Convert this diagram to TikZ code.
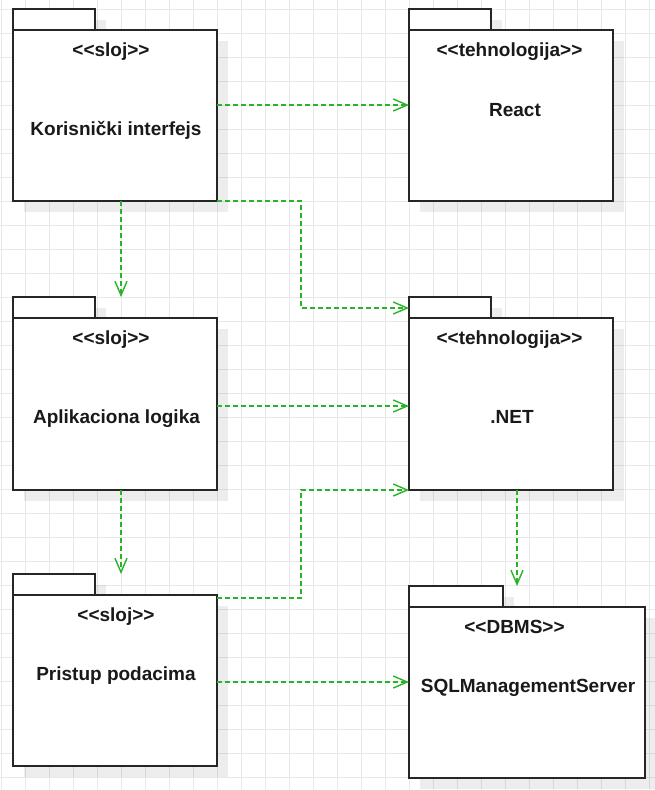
\documentclass[tikz,border=0pt]{standalone}
\usepackage{fontspec}
\setmainfont{Liberation Sans}
\usetikzlibrary{arrows.meta,shadows}
\definecolor{depgreen}{RGB}{40,180,40}
\definecolor{gridgray}{RGB}{232,232,232}
\newcommand{\stereo}[1]{\textless\kern0pt\textless\kern0pt#1\kern0pt\textgreater\kern0pt\textgreater}
\begin{document}
\begin{tikzpicture}[x=1pt,y=-1pt,
  pkg/.style={draw=black!85, line width=1.3pt, fill=white, rectangle, inner sep=0pt, outer sep=0pt,
    drop shadow={shadow xshift=11pt, shadow yshift=-11pt, opacity=0.07, fill=black}},
  tabsz/.style={minimum width=82pt, minimum height=21pt},
  bodysz/.style={minimum width=204pt, minimum height=171pt},
  dep/.style={draw=depgreen, line width=1.4pt, dash pattern=on 5pt off 3pt,
    -{Straight Barb[length=14pt,width=12pt]}},
  lbl/.style={font=\bfseries\fontsize{19}{22}\selectfont, anchor=base, inner sep=0pt, text=black!90}]
\useasboundingbox (0,0) rectangle (655,790);
\fill[white] (0,0) rectangle (655,790);
\foreach \x in {1,25,...,649} \draw[gridgray, line width=1pt] (\x,0) -- (\x,790);
\foreach \y in {9,33,...,789} \draw[gridgray, line width=1pt] (0,\y) -- (655,\y);

% packages
\node[pkg, tabsz] (ktab) at (54,19.5) {};
\node[pkg, bodysz] (k) at (115,115.5) {};
\node[pkg, tabsz] (rtab) at (450,19.5) {};
\node[pkg, bodysz] (r) at (511,115.5) {};
\node[pkg, tabsz] (atab) at (54,307.5) {};
\node[pkg, bodysz, minimum height=172pt] (a) at (115,404) {};
\node[pkg, tabsz] (ntab) at (450,307.5) {};
\node[pkg, bodysz, minimum height=172pt] (n) at (511,404) {};
\node[pkg, tabsz] (ptab) at (54,584.5) {};
\node[pkg, bodysz] (p) at (115,680.5) {};
\node[pkg, tabsz, minimum width=94pt] (stab) at (456,596.5) {};
\node[pkg, bodysz, minimum width=236pt] (s) at (527,692.5) {};

% labels
\node[lbl] (kst) at (111,56) {\stereo{sloj}};
\node[lbl] (kname) at (116,135) {Korisnički interfejs};
\node[lbl] (rst) at (509.5,56) {\stereo{tehnologija}};
\node[lbl] (rname) at (515,116) {React};
\node[lbl] (ast) at (111,344) {\stereo{sloj}};
\node[lbl] (aname) at (116.5,423) {Aplikaciona logika};
\node[lbl] (nst) at (509.5,344) {\stereo{tehnologija}};
\node[lbl] (nname) at (512,423) {.NET};
\node[lbl] (pst) at (116,621) {\stereo{sloj}};
\node[lbl] (pname) at (116,680) {Pristup podacima};
\node[lbl] (sst) at (514.5,633) {\stereo{DBMS}};
\node[lbl] (sname) at (528,692.5) {SQLManagementServer};

% dependencies
\coordinate (b1) at (301,201);
\coordinate (b2) at (301,598);
\draw[dep] (k.east |- 0,105) -- (r.west |- 0,105);
\draw[dep] (k.south east) -- (b1) |- (ntab.west |- 0,308);
\draw[dep] (k.south -| 121,0) -- (atab.north -| 121,0);
\draw[dep] (a.east |- 0,406) -- (n.west |- 0,406);
\draw[dep] (a.south -| 121,0) -- (ptab.north -| 121,0);
\draw[dep] (p.east |- b2) -- (b2) |- (n.south west);
\draw[dep] (n.south -| 517,0) -- (stab.north -| 517,0);
\draw[dep] (p.east |- 0,682) -- (s.west |- 0,682);
\end{tikzpicture}
\end{document}
